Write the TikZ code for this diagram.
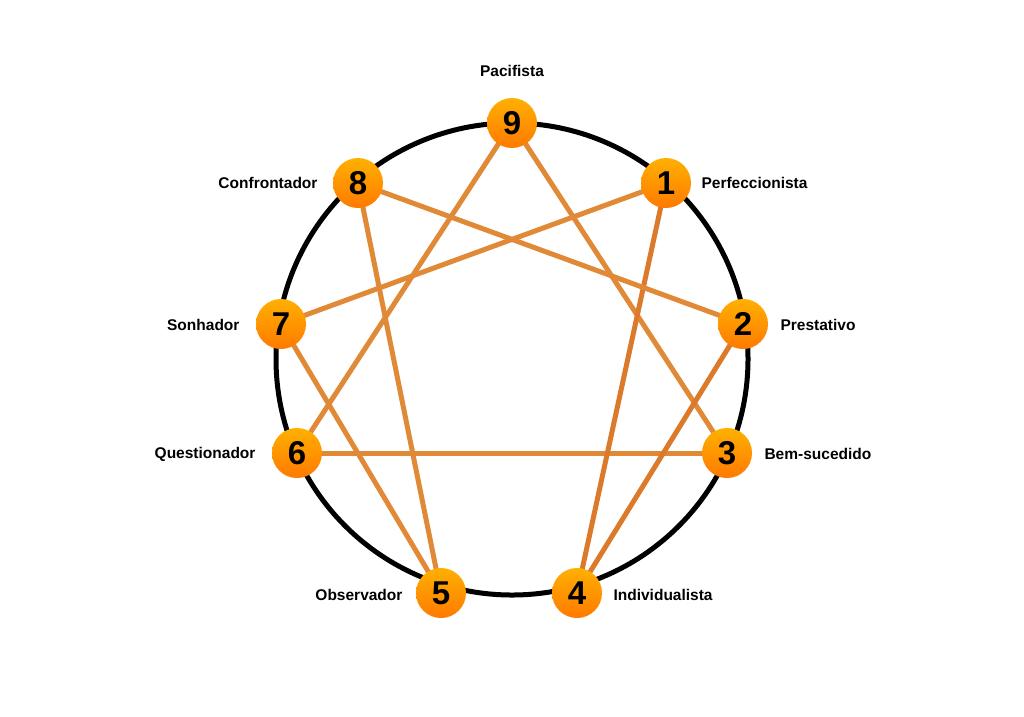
\documentclass[tikz,border=0pt]{standalone}
\usepackage{fontspec}
\setmainfont{Liberation Sans}
\begin{document}
\begin{tikzpicture}[x=1pt,y=-1pt,
  ball/.style={circle,minimum size=50pt,inner sep=0pt,top color=ballA,bottom color=ballB,font=\bfseries\fontsize{33}{33}\selectfont},
  lab/.style={font=\bfseries\fontsize{15.5}{15.5}\selectfont},
  link/.style={line width=5pt,draw=linkc}]
\definecolor{ballA}{HTML}{FFB000}
\definecolor{ballB}{HTML}{FF7A00}
\definecolor{linkc}{HTML}{E08A38}
\definecolor{linkd}{HTML}{DA7A2A}
\useasboundingbox (0,0) rectangle (1024,716);
\draw[line width=5pt] (512,359) circle (236);
\coordinate (c9) at (512,123);
\coordinate (c1) at (666,183);
\coordinate (c2) at (743,324);
\coordinate (c3) at (727,453);
\coordinate (c4) at (577,593);
\coordinate (c5) at (441,593);
\coordinate (c6) at (297,453);
\coordinate (c7) at (281,324);
\coordinate (c8) at (358,183);
\draw[link] (c9)--(c3); \draw[link] (c9)--(c6); \draw[link] (c3)--(c6);
\draw[link] (c1)--(c7); \draw[link,draw=linkd] (c1)--(c4);
\draw[link] (c2)--(c8); \draw[link,draw=linkd] (c2)--(c4);
\draw[link] (c5)--(c7); \draw[link] (c5)--(c8);
\foreach \n in {1,...,9} \node[ball] (n\n) at (c\n) {\n};
\node[lab] (l9) at (512,71) {Pacifista};
\node[lab,anchor=west] (l1) at (698,183) {Perfeccionista};
\node[lab,anchor=west] (l2) at (777,325) {Prestativo};
\node[lab,anchor=west] (l3) at (761,454) {Bem-sucedido};
\node[lab,anchor=west] (l4) at (610,595) {Individualista};
\node[lab,anchor=east] (l5) at (406,595) {Observador};
\node[lab,anchor=east] (l6) at (259,454) {Questionador};
\node[lab,anchor=east] (l7) at (243,325) {Sonhador};
\node[lab,anchor=east] (l8) at (321,183) {Confrontador};
\end{tikzpicture}
\end{document}
